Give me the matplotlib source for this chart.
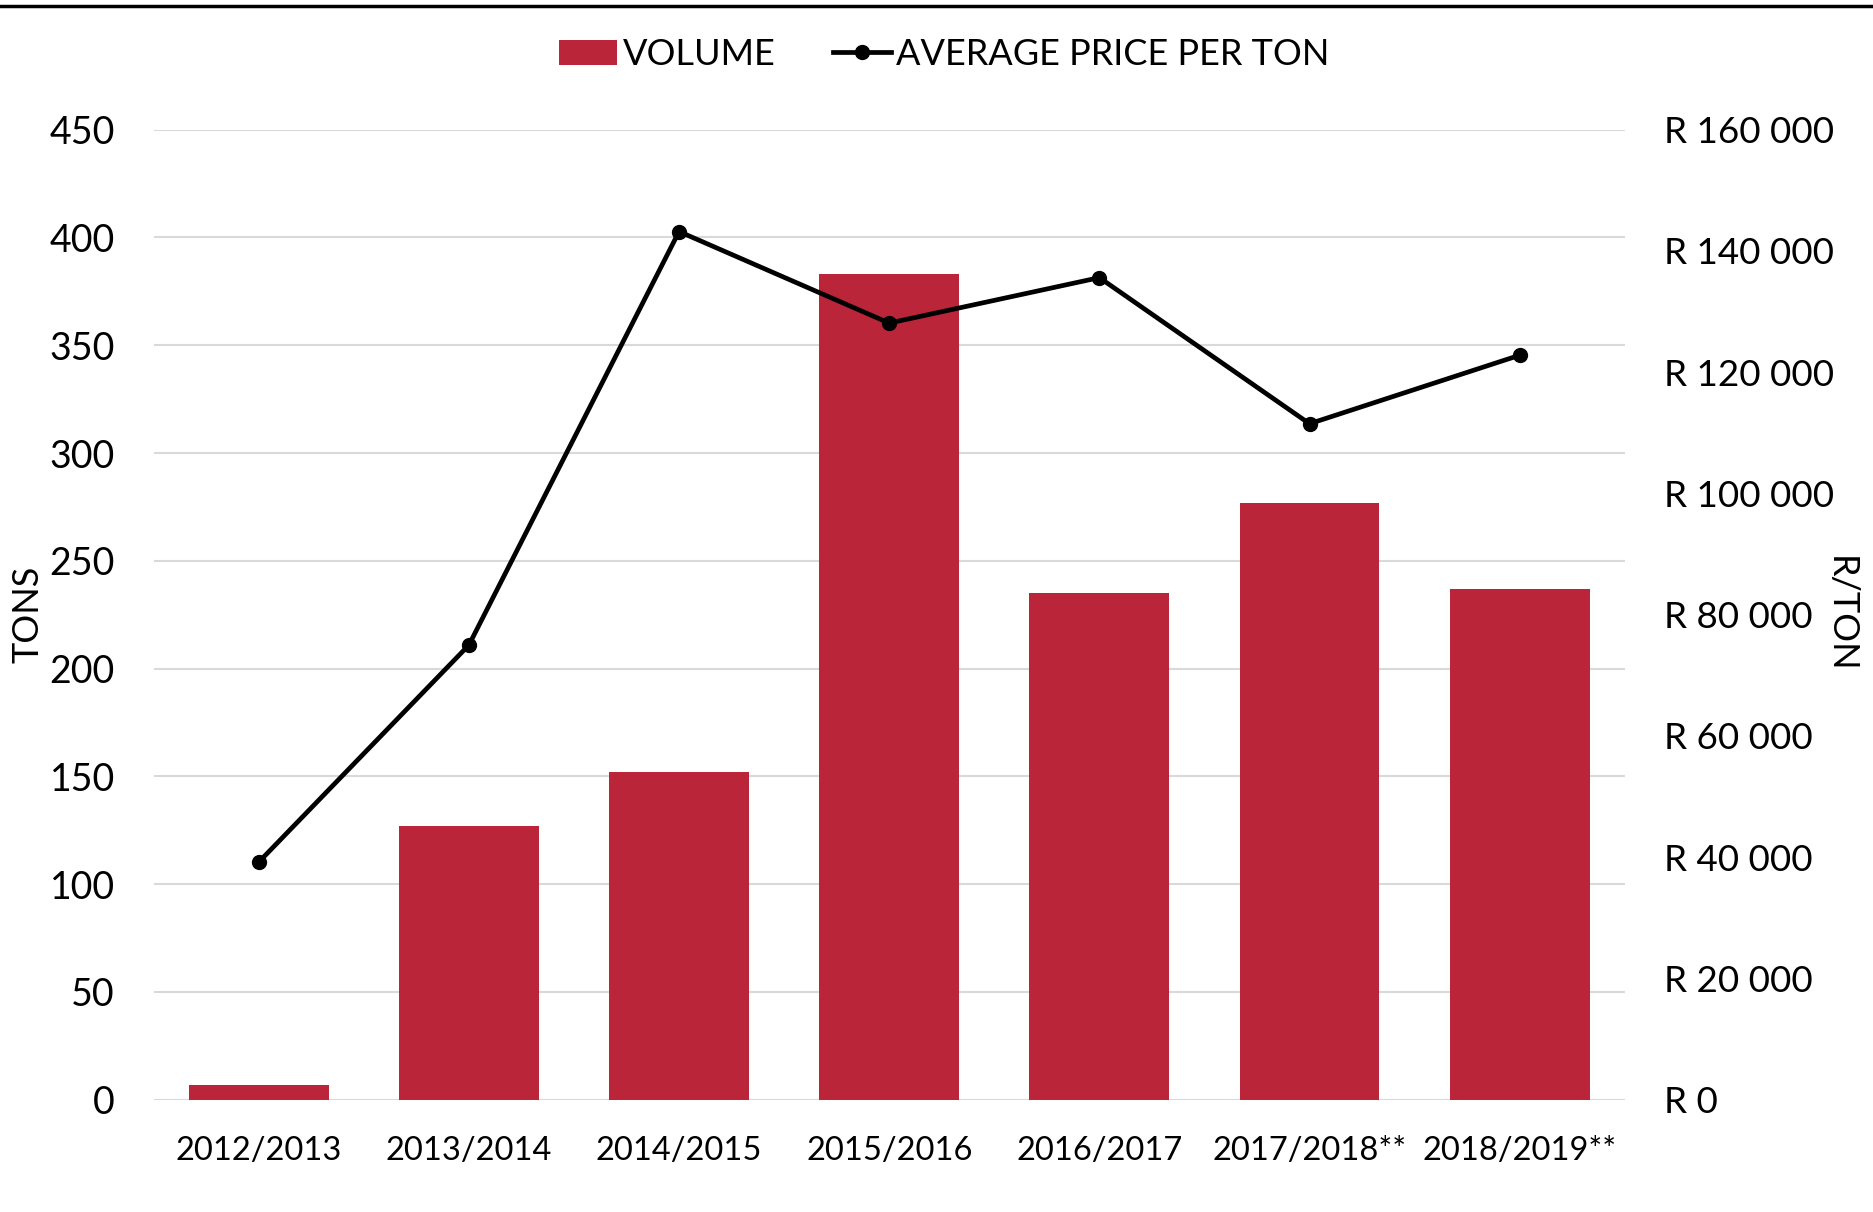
import matplotlib.pyplot as plt
from matplotlib.lines import Line2D
from matplotlib.ticker import FuncFormatter
import numpy as np

seasons = ["2012/2013", "2013/2014", "2014/2015", "2015/2016",
           "2016/2017", "2017/2018**", "2018/2019**"]
volume = [7, 127, 152, 383, 235, 277, 237]
price = [39200, 75000, 143200, 128100, 135600, 111500, 122800]

plt.rcParams['font.family'] = ['Lato', 'DejaVu Sans']

fig = plt.figure(figsize=(18.74, 12.12), dpi=100)
ax = fig.add_axes([0.082, 0.0926, 0.785, 0.8004])
ax2 = ax.twinx()

x = np.arange(len(seasons))
ax.bar(x, volume, width=0.665, color="#BA2539", zorder=2, label="VOLUME")
ax2.plot(x, price, color="black", lw=3.4, marker="o", ms=10, label="AVERAGE PRICE PER TON")

ax.set_xlim(-0.5, len(seasons) - 0.5)
ax.set_ylim(0, 450)
ax.set_yticks(range(0, 451, 50))
ax2.set_ylim(0, 160000)
ax2.set_yticks(range(0, 160001, 20000))
ax2.yaxis.set_major_formatter(FuncFormatter(lambda v, p: "R " + f"{int(v):,}".replace(",", " ")))

ax.grid(axis="y", color="#d9d9d9", lw=1.5, zorder=0)
ax.set_axisbelow(True)
for a in (ax, ax2):
    for s in a.spines.values():
        s.set_visible(False)
ax.tick_params(axis="y", length=0, pad=28, labelsize=27)
ax2.tick_params(axis="y", length=0, pad=28, labelsize=26.5)
ax.tick_params(axis="x", length=0, pad=26, labelsize=23.5)
ax.set_xticks(x)
ax.set_xticklabels(seasons)

ax.set_ylabel("TONS", fontsize=26)
ax.yaxis.set_label_coords(-0.074, 0.5)
ax2.set_ylabel("R/TON", fontsize=26, rotation=270, labelpad=10)
ax2.yaxis.set_label_coords(1.158, 0.5)

h1, l1 = ax.get_legend_handles_labels()
h2, l2 = ax2.get_legend_handles_labels()
fig.legend(h1 + h2, l1 + l2, loc="center", bbox_to_anchor=(0.504, 0.955), ncol=2,
           frameon=False, fontsize=26, handlelength=1.6, handletextpad=0.15,
           columnspacing=1.6)

fig.add_artist(Line2D([0, 1], [0.995, 0.995], color="black", lw=2.5, transform=fig.transFigure))

fig.savefig("out.png", dpi=100, facecolor="white")
